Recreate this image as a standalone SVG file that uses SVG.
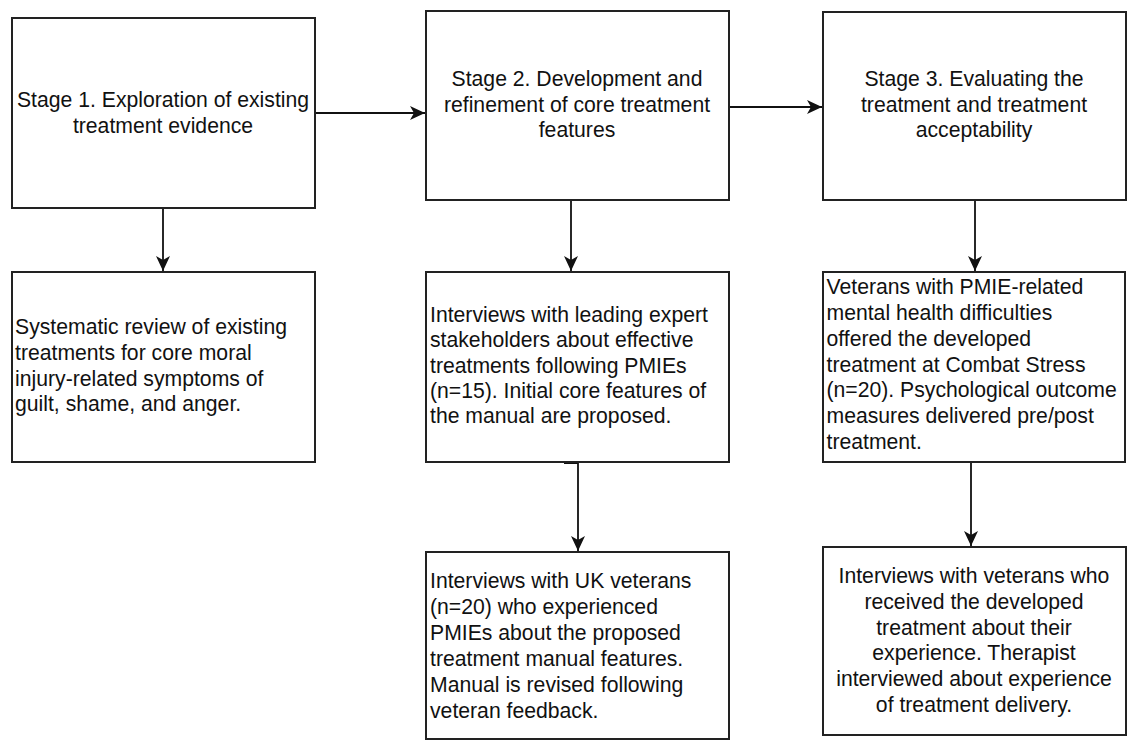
<svg xmlns="http://www.w3.org/2000/svg" width="1128" height="740" viewBox="0 0 1128 740">
  <style>
    .box { fill: #ffffff; stroke: #222222; stroke-width: 2; }
    .lbl { font-family: "Liberation Sans", Arial, Helvetica, sans-serif; font-size: 21.2px; fill: #111111; }
    .c { text-anchor: middle; }
    .edge { fill: none; stroke: #111111; stroke-width: 1.8; }
  </style>
  <defs>
    <marker id="arr" viewBox="0 0 16 16" refX="15" refY="8" markerWidth="16" markerHeight="16" markerUnits="userSpaceOnUse" orient="auto">
      <path d="M0,1 L15,8 L0,15 L4,8 Z" fill="#111111"/>
    </marker>
  </defs>
  <rect x="0" y="0" width="1128" height="740" fill="#ffffff"/>

  <g id="connectors">
    <path class="edge" d="M315,113 H425" marker-end="url(#arr)"/>
    <path class="edge" d="M729,107 H822" marker-end="url(#arr)"/>
    <path class="edge" d="M163,208 V271" marker-end="url(#arr)"/>
    <path class="edge" d="M571,200 V271" marker-end="url(#arr)"/>
    <path class="edge" d="M975,200 V271" marker-end="url(#arr)"/>
    <path class="edge" d="M564,463 H578 V551" marker-end="url(#arr)"/>
    <path class="edge" d="M971,462 V546" marker-end="url(#arr)"/>
  </g>

  <g id="stage1">
    <rect class="box" x="12" y="18" width="303" height="190"/>
    <text class="lbl c" x="163" y="107">Stage 1. Exploration of existing</text>
    <text class="lbl c" x="163" y="132.5">treatment evidence</text>
  </g>

  <g id="stage2">
    <rect class="box" x="426" y="11" width="303" height="189"/>
    <text class="lbl c" x="577" y="86">Stage 2. Development and</text>
    <text class="lbl c" x="577" y="111.5">refinement of core treatment</text>
    <text class="lbl c" x="577" y="137">features</text>
  </g>

  <g id="stage3">
    <rect class="box" x="823" y="12" width="303" height="188"/>
    <text class="lbl c" x="974" y="86">Stage 3. Evaluating the</text>
    <text class="lbl c" x="974" y="111.5">treatment and treatment</text>
    <text class="lbl c" x="974" y="137">acceptability</text>
  </g>

  <g id="review">
    <rect class="box" x="12" y="272" width="303" height="190"/>
    <text class="lbl" x="15" y="334">Systematic review of existing</text>
    <text class="lbl" x="15" y="359.8">treatments for core moral</text>
    <text class="lbl" x="15" y="385.6">injury-related symptoms of</text>
    <text class="lbl" x="15" y="411.4">guilt, shame, and anger.</text>
  </g>

  <g id="experts">
    <rect class="box" x="426" y="272" width="303" height="190"/>
    <text class="lbl" x="430" y="321.7">Interviews with leading expert</text>
    <text class="lbl" x="430" y="347.1">stakeholders about effective</text>
    <text class="lbl" x="430" y="372.5">treatments following PMIEs</text>
    <text class="lbl" x="430" y="397.9">(n=15). Initial core features of</text>
    <text class="lbl" x="430" y="423.3">the manual are proposed.</text>
  </g>

  <g id="veterans-treatment">
    <rect class="box" x="823" y="272" width="302" height="190"/>
    <text class="lbl" x="826.5" y="294.2">Veterans with PMIE-related</text>
    <text class="lbl" x="826.5" y="320">mental health difficulties</text>
    <text class="lbl" x="826.5" y="345.8">offered the developed</text>
    <text class="lbl" x="826.5" y="371.6">treatment at Combat Stress</text>
    <text class="lbl" x="826.5" y="397.4">(n=20). Psychological outcome</text>
    <text class="lbl" x="826.5" y="423.2">measures delivered pre/post</text>
    <text class="lbl" x="826.5" y="449">treatment.</text>
  </g>

  <g id="uk-veterans">
    <rect class="box" x="426" y="552" width="303" height="187"/>
    <text class="lbl" x="430" y="588.3">Interviews with UK veterans</text>
    <text class="lbl" x="430" y="614.3">(n=20) who experienced</text>
    <text class="lbl" x="430" y="640.3">PMIEs about the proposed</text>
    <text class="lbl" x="430" y="666.3">treatment manual features.</text>
    <text class="lbl" x="430" y="692.3">Manual is revised following</text>
    <text class="lbl" x="430" y="718.3">veteran feedback.</text>
  </g>

  <g id="evaluation-interviews">
    <rect class="box" x="823" y="547" width="303" height="188"/>
    <text class="lbl c" x="974" y="583.3">Interviews with veterans who</text>
    <text class="lbl c" x="974" y="609">received the developed</text>
    <text class="lbl c" x="974" y="634.7">treatment about their</text>
    <text class="lbl c" x="974" y="660.4">experience. Therapist</text>
    <text class="lbl c" x="974" y="686.1">interviewed about experience</text>
    <text class="lbl c" x="974" y="711.8">of treatment delivery.</text>
  </g>
</svg>
